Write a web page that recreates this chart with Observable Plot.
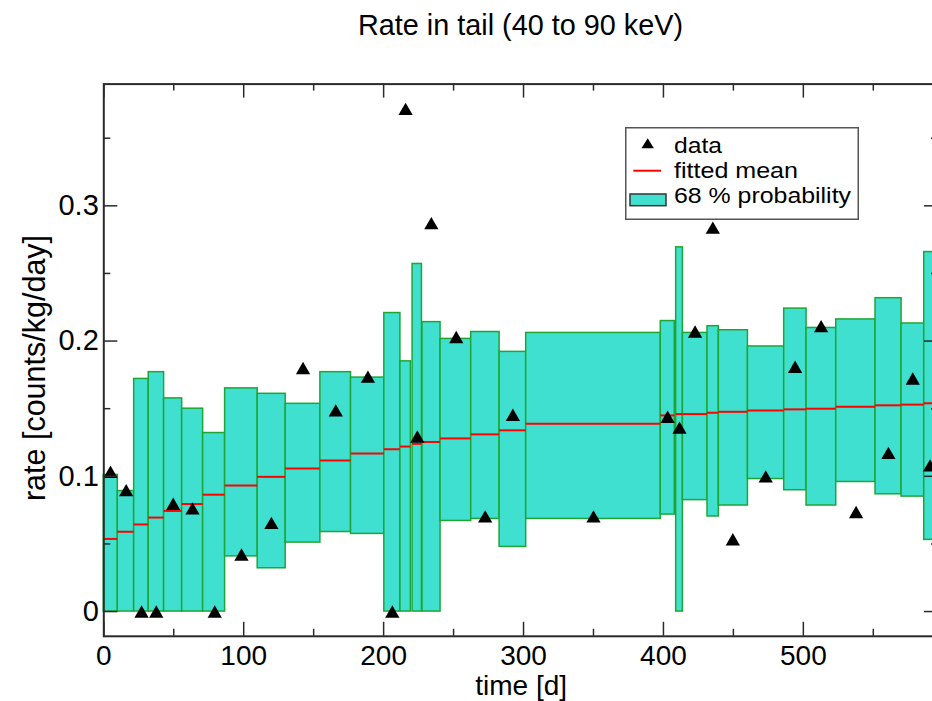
<!DOCTYPE html>
<html>
<head>
<meta charset="utf-8">
<script src="https://cdn.jsdelivr.net/npm/d3@7"></script>
<script src="https://cdn.jsdelivr.net/npm/@observablehq/plot@0.6"></script>
<style>
  html, body { margin: 0; padding: 0; background: white; overflow: hidden; }
  #wrap { position: relative; width: 946px; height: 701px; overflow: hidden; font-family: "Liberation Sans", Arial, sans-serif; }
  #title { position: absolute; left: 0; top: 11px; width: 1041px; text-align: center; font-size: 28.8px; line-height: 28px; color: black; white-space: nowrap; }
  #chart { position: absolute; left: 0; top: 60px; width: 946px; }
  #legend { position: absolute; left: 625px; top: 127px; }
</style>
</head>
<body>
<div id="wrap">
  <div id="title">Rate in tail (40 to 90 keV)</div>
  <div id="chart"></div>
  <div id="legend"></div>
</div>
<script>
// ---- data ----
const binStart = [0, 10, 21.7, 32.1, 43.1, 56, 71, 86.7, 110, 130, 154.8, 176.7, 200.5, 212, 220.7, 227.8,
  240.7, 262.6, 282.9, 301.9, 398.1, 409.1, 413.9, 431.5, 439.6, 460.4, 486.3, 502.3, 523.5, 551.6, 570.2, 586.4];
const binEnd = [10, 21.7, 32.1, 43.1, 56, 71, 86.7, 110, 130, 154.8, 176.7, 200.5, 212, 219.5, 227.4, 240.7,
  262.6, 282.9, 301.9, 398.1, 408.1, 413.9, 431.5, 439.6, 460.4, 486.3, 502.3, 523.5, 551.6, 570.2, 586.4, 600];
const bandLow = [0, 0, 0, 0, 0, 0, 0, 0.0408, 0.032, 0.051, 0.0588, 0.0574, 0, 0, 0, 0,
  0.067, 0.0685, 0.0478, 0.0685, 0.0717, 0, 0.0824, 0.0703, 0.0784, 0.098, 0.0897, 0.0784, 0.0958, 0.0867, 0.085, 0.053];
const bandHigh = [0.101, 0.0891, 0.172, 0.177, 0.1576, 0.150, 0.132, 0.165, 0.161, 0.1536, 0.177, 0.173, 0.2207, 0.185, 0.257, 0.214,
  0.2016, 0.2067, 0.192, 0.206, 0.2148, 0.2693, 0.206, 0.211, 0.208, 0.196, 0.224, 0.2097, 0.216, 0.2317, 0.213, 0.2658];
const fittedMean = [0.0537, 0.059, 0.0644, 0.0695, 0.0744, 0.0795, 0.0864, 0.0932, 0.0996, 0.1058, 0.1117, 0.1168, 0.120, 0.122, 0.124, 0.1254,
  0.128, 0.131, 0.134, 0.1388, 0.145, 0.146, 0.146, 0.147, 0.1477, 0.1487, 0.1495, 0.150, 0.1514, 0.1525, 0.153, 0.154];

const dataDay = [4.8, 16, 27, 37.5, 49.6, 63.4, 79.3, 98.4, 119.8, 142.4, 165.8, 188.8, 206.2, 215.7, 224.1, 234.1,
  251.9, 272.6, 292.4, 350, 403, 411.5, 422.6, 435.3, 449.6, 473.1, 494.1, 512.7, 537.7, 560.8, 578.2, 590.6];
const dataRate = [0.1033, 0.0897, 0, 0, 0.0797, 0.0762, 0, 0.0421, 0.0655, 0.180, 0.1487, 0.1737, 0, 0.3716, 0.1294, 0.2872,
  0.203, 0.0703, 0.1455, 0.0703, 0.144, 0.136, 0.207, 0.2838, 0.0534, 0.0999, 0.181, 0.211, 0.0736, 0.1173, 0.1723, 0.108];

const xMajor = [0, 100, 200, 300, 400, 500];
const xMinor = [50, 150, 250, 350, 450, 550];
const yMajor = [0, 0.1, 0.2, 0.3];
const yMinor = [0.05, 0.15, 0.25, 0.35];
const xLabel = "time [d]";
const yLabel = "rate [counts/kg/day]";
const legendLabels = ["data", "fitted mean", "68 % probability"];

// ---- tables for the library ----
const bins = binStart.map((s, i) => ({s, e: binEnd[i], lo: bandLow[i], hi: bandHigh[i], m: fittedMean[i]}));
const points = dataDay.map((d, i) => ({d, r: dataRate[i]}));

// ---- layout / style ----
const W = 946, H = 641, mL = 103.3, mR = 8, mT = 23.6, mB = 65.2;
const fw = W - mL - mR, fh = H - mT - mB;
const axisColor = "#2a2a2a";
const fillColor = "#40e0d0", boxStroke = "#1fa535";
const major = 14, minor = 7;

const chart = Plot.plot({
  width: W, height: H,
  marginLeft: mL, marginRight: mR, marginTop: mT, marginBottom: mB,
  style: {fontFamily: "Liberation Sans, Arial, sans-serif", fontSize: "28px", color: "black", background: "white", overflow: "visible"},
  x: {domain: [0, 596.6]},
  y: {domain: [-0.0183, 0.39]},
  marks: [
    Plot.rect(bins, {x1: "s", x2: "e", y1: "lo", y2: "hi", fill: fillColor, stroke: boxStroke, strokeWidth: 1.5}),
    Plot.ruleY(bins, {x1: "s", x2: "e", y: "m", stroke: "red", strokeWidth: 2}),
    Plot.dot(points, {x: "d", y: "r", symbol: "triangle", r: 5.3, fill: "black", dy: 2}),
    // ticks (inward)
    Plot.ruleX(xMajor, {x: d => d, insetTop: fh - major, stroke: axisColor, strokeWidth: 1.5}),
    Plot.ruleX(xMinor, {x: d => d, insetTop: fh - minor, stroke: axisColor, strokeWidth: 1.5}),
    Plot.ruleX(xMajor, {x: d => d, insetBottom: fh - major, stroke: axisColor, strokeWidth: 1.5}),
    Plot.ruleX(xMinor, {x: d => d, insetBottom: fh - minor, stroke: axisColor, strokeWidth: 1.5}),
    Plot.ruleY(yMajor, {y: d => d, insetRight: fw - major, stroke: axisColor, strokeWidth: 1.5}),
    Plot.ruleY(yMinor, {y: d => d, insetRight: fw - minor, stroke: axisColor, strokeWidth: 1.5}),
    Plot.ruleY(yMajor, {y: d => d, insetLeft: fw - major, stroke: axisColor, strokeWidth: 1.5}),
    Plot.ruleY(yMinor, {y: d => d, insetLeft: fw - minor, stroke: axisColor, strokeWidth: 1.5}),
    // tick labels
    Plot.axisX({ticks: xMajor, anchor: "bottom", tickSize: 0, tickPadding: 9.3, fontSize: 28, label: null, tickFormat: d => String(d)}),
    Plot.axisY({ticks: yMajor, anchor: "left", tickSize: 0, tickPadding: 5, fontSize: 29, label: null, tickFormat: d => d === 0 ? "0" : String(d)}),
    // axis titles
    Plot.text([xLabel], {text: d => d, frameAnchor: "bottom", lineAnchor: "bottom", dy: 58.2, fontSize: 28}),
    Plot.text([yLabel], {text: d => d, frameAnchor: "left", rotate: -90, textAnchor: "middle", lineAnchor: "middle", dx: -68.3, dy: 7.8, fontSize: 30.5}),
    Plot.frame({stroke: axisColor, strokeWidth: 2})
  ]
});
document.getElementById("chart").appendChild(chart);

// ---- legend ----
const lg = d3.select("#legend").append("svg").attr("width", 235).attr("height", 94)
  .style("font-family", "Liberation Sans, Arial, sans-serif");
lg.append("rect").attr("x", 0.75).attr("y", 0.75).attr("width", 232.5).attr("height", 91.5)
  .attr("fill", "white").attr("stroke", "#555").attr("stroke-width", 1.5);
lg.append("path").attr("d", "M22.7,11.3L28.9,21.3L16.5,21.3Z").attr("fill", "black");
lg.append("line").attr("x1", 8.3).attr("x2", 36).attr("y1", 43.7).attr("y2", 43.7).attr("stroke", "red").attr("stroke-width", 2);
lg.append("rect").attr("x", 5).attr("y", 67).attr("width", 36).attr("height", 11.7)
  .attr("fill", fillColor).attr("stroke", "#333").attr("stroke-width", 1.5);
const baselines = [26, 51, 76];
const widths = [48, 124, 177];
legendLabels.forEach((t, i) => {
  lg.append("text").attr("x", 49).attr("y", baselines[i]).attr("font-size", 22)
    .attr("textLength", widths[i]).attr("lengthAdjust", "spacingAndGlyphs")
    .attr("fill", "black").text(t);
});
</script>
</body>
</html>
